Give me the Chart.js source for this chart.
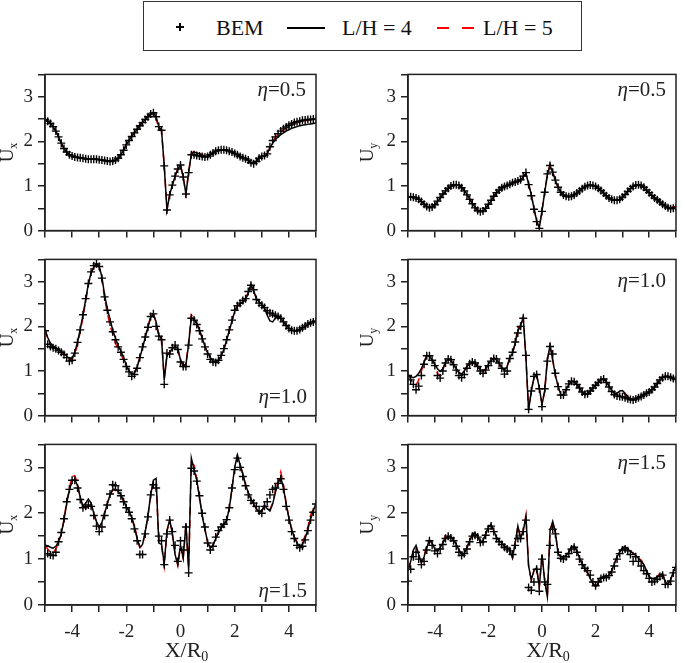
<!DOCTYPE html>
<html>
<head>
<meta charset="utf-8">
<script src="https://cdn.jsdelivr.net/npm/chart.js@4.4.0/dist/chart.umd.min.js"></script>
<style>
  body { margin: 0; width: 685px; height: 663px; position: relative; background: #fff; overflow: hidden;
         font-family: "Liberation Serif", "Times New Roman", serif; }
  canvas { position: absolute; }
  #lgbox { position: absolute; left: 143px; top: 1px; width: 439px; height: 50px; border: 1.5px solid #333; box-sizing: border-box; }
  .lg { position: absolute; top: 16.5px; font-size: 22px; line-height: 22px; color: #111; white-space: pre; }
  .mk { position: absolute; }
</style>
</head>
<body>
<div id="lgbox"></div>
<div class="mk" style="left:176px;top:26px;width:8px;height:1.5px;background:#000"></div>
<div class="mk" style="left:179.3px;top:22.8px;width:1.5px;height:8px;background:#000"></div>
<span class="lg" style="left:216px">BEM</span>
<div class="mk" style="left:287px;top:27px;width:38px;height:1.5px;background:#000"></div>
<span class="lg" style="left:342px">L/H = 4</span>
<div class="mk" style="left:437px;top:27px;width:12px;height:2px;background:#f00"></div>
<div class="mk" style="left:462px;top:27px;width:12px;height:2px;background:#f00"></div>
<span class="lg" style="left:483px">L/H = 5</span>

<canvas id="tl" width="325" height="189" style="left:0;top:58px"></canvas>
<canvas id="tr" width="342" height="189" style="left:343px;top:58px"></canvas>
<canvas id="ml" width="325" height="189" style="left:0;top:243px"></canvas>
<canvas id="mr" width="342" height="189" style="left:343px;top:243px"></canvas>
<canvas id="bl" width="325" height="235" style="left:0;top:428px"></canvas>
<canvas id="br" width="342" height="235" style="left:343px;top:428px"></canvas>

<script>
const SERIF = '"Liberation Serif", "Times New Roman", serif';

// X/R0 positions shared by all panels
const xs = [-5.0,-4.9,-4.8,-4.7,-4.6,-4.5,-4.4,-4.3,-4.2,-4.1,
  -4.0,-3.9,-3.8,-3.7,-3.6,-3.5,-3.4,-3.3,-3.2,-3.1,
  -3.0,-2.9,-2.8,-2.7,-2.6,-2.5,-2.4,-2.3,-2.2,-2.1,
  -2.0,-1.9,-1.8,-1.7,-1.6,-1.5,-1.4,-1.3,-1.2,-1.1,
  -1.0,-0.9,-0.8,-0.7,-0.6,-0.5,-0.4,-0.3,-0.2,-0.1,
  0.0,0.1,0.2,0.3,0.4,0.5,0.6,0.7,0.8,0.9,
  1.0,1.1,1.2,1.3,1.4,1.5,1.6,1.7,1.8,1.9,
  2.0,2.1,2.2,2.3,2.4,2.5,2.6,2.7,2.8,2.9,
  3.0,3.1,3.2,3.3,3.4,3.5,3.6,3.7,3.8,3.9,
  4.0,4.1,4.2,4.3,4.4,4.5,4.6,4.7,4.8,4.9,5.0];

// Ux, eta = 0.5
const tlL4 = [2.49,2.45,2.40,2.33,2.23,2.10,1.96,1.84,1.76,1.70,
  1.67,1.65,1.64,1.63,1.62,1.61,1.60,1.60,1.60,1.60,
  1.59,1.58,1.57,1.56,1.55,1.56,1.58,1.62,1.70,1.80,
  1.92,2.02,2.11,2.19,2.27,2.35,2.42,2.49,2.55,2.61,
  2.64,2.55,2.33,2.25,1.45,0.46,0.80,1.02,1.22,1.38,
  1.47,1.20,0.82,1.30,1.72,1.76,1.74,1.72,1.69,1.66,
  1.66,1.70,1.74,1.78,1.80,1.81,1.81,1.80,1.78,1.76,
  1.73,1.70,1.66,1.63,1.61,1.58,1.52,1.50,1.55,1.62,
  1.66,1.68,1.72,1.85,1.96,2.03,2.10,2.15,2.19,2.23,
  2.26,2.29,2.31,2.33,2.35,2.36,2.37,2.38,2.39,2.40,2.41];
const tlL5 = [2.49,2.45,2.40,2.33,2.23,2.10,1.96,1.84,1.76,1.70,
  1.67,1.65,1.64,1.63,1.62,1.61,1.60,1.60,1.60,1.60,
  1.59,1.58,1.57,1.56,1.55,1.56,1.58,1.62,1.70,1.80,
  1.94,2.04,2.13,2.21,2.29,2.37,2.44,2.51,2.57,2.62,
  2.64,2.50,2.30,2.24,1.45,0.48,0.80,1.02,1.22,1.38,
  1.47,1.20,0.82,1.30,1.74,1.77,1.75,1.73,1.70,1.67,
  1.66,1.70,1.74,1.78,1.80,1.81,1.81,1.80,1.78,1.76,
  1.73,1.70,1.66,1.63,1.61,1.58,1.52,1.50,1.55,1.62,
  1.66,1.68,1.72,1.87,2.00,2.08,2.15,2.21,2.26,2.30,
  2.34,2.37,2.40,2.42,2.44,2.45,2.46,2.47,2.48,2.49,2.49];
const tlBem = [2.49,2.45,2.40,2.33,2.23,2.10,1.96,1.84,1.76,1.70,
  1.67,1.65,1.64,1.63,1.62,1.61,1.60,1.60,1.60,1.60,
  1.59,1.58,1.57,1.56,1.55,1.56,1.58,1.62,1.70,1.80,
  1.92,2.02,2.11,2.19,2.27,2.35,2.42,2.49,2.55,2.61,
  2.64,2.55,2.33,2.25,1.45,0.46,0.80,1.02,1.22,1.38,
  1.47,1.20,0.82,1.30,1.70,1.70,1.68,1.67,1.66,1.65,
  1.66,1.70,1.74,1.78,1.80,1.81,1.81,1.80,1.78,1.76,
  1.73,1.70,1.66,1.63,1.61,1.58,1.52,1.50,1.55,1.62,
  1.66,1.68,1.72,1.88,2.02,2.10,2.17,2.23,2.28,2.32,
  2.36,2.39,2.42,2.44,2.45,2.47,2.48,2.49,2.49,2.50,2.50];

// Uy, eta = 0.5
const trL4 = [0.74,0.75,0.75,0.74,0.71,0.66,0.60,0.55,0.52,0.53,
  0.58,0.65,0.73,0.81,0.88,0.94,0.99,1.02,1.03,1.01,
  0.97,0.90,0.81,0.71,0.61,0.52,0.46,0.43,0.44,0.50,
  0.58,0.67,0.76,0.84,0.90,0.95,0.98,1.00,1.03,1.06,
  1.08,1.10,1.13,1.20,1.28,1.05,0.80,0.50,0.22,0.06,
  0.45,0.85,1.25,1.46,1.30,1.12,0.97,0.86,0.80,0.77,
  0.76,0.77,0.80,0.84,0.89,0.94,0.98,1.01,1.02,1.01,
  0.99,0.95,0.90,0.84,0.78,0.73,0.70,0.68,0.68,0.70,
  0.75,0.81,0.88,0.94,0.99,1.02,1.02,1.00,0.96,0.90,
  0.84,0.78,0.73,0.69,0.64,0.59,0.55,0.51,0.50,0.51,0.52];
const trL5 = [0.74,0.75,0.75,0.74,0.71,0.66,0.60,0.55,0.52,0.53,
  0.58,0.65,0.73,0.81,0.88,0.94,0.99,1.02,1.03,1.01,
  0.97,0.90,0.81,0.71,0.61,0.52,0.46,0.43,0.44,0.50,
  0.58,0.67,0.76,0.84,0.90,0.95,0.98,1.01,1.05,1.08,
  1.09,1.10,1.13,1.20,1.28,1.05,0.80,0.50,0.22,0.06,
  0.45,0.85,1.25,1.49,1.32,1.12,0.97,0.86,0.80,0.77,
  0.76,0.77,0.80,0.84,0.89,0.94,0.98,1.01,1.02,1.01,
  0.99,0.95,0.90,0.84,0.78,0.73,0.70,0.68,0.68,0.70,
  0.75,0.81,0.88,0.94,0.99,1.02,1.03,1.02,0.98,0.91,
  0.84,0.78,0.73,0.69,0.64,0.59,0.55,0.52,0.52,0.53,0.54];
const trBem = [0.75,0.76,0.75,0.73,0.70,0.65,0.59,0.54,0.51,0.53,
  0.58,0.66,0.74,0.82,0.89,0.95,1.00,1.03,1.03,1.01,
  0.96,0.89,0.80,0.70,0.60,0.51,0.45,0.42,0.44,0.50,
  0.59,0.68,0.77,0.85,0.91,0.96,0.99,1.01,1.04,1.07,
  1.09,1.11,1.14,1.22,1.30,1.03,0.78,0.48,0.20,0.05,
  0.43,0.86,1.27,1.46,1.31,1.13,0.97,0.86,0.80,0.77,
  0.76,0.77,0.80,0.84,0.89,0.94,0.98,1.01,1.02,1.01,
  0.99,0.95,0.90,0.84,0.78,0.73,0.70,0.68,0.68,0.70,
  0.75,0.81,0.88,0.94,0.99,1.02,1.03,1.01,0.97,0.91,
  0.85,0.79,0.73,0.69,0.64,0.59,0.55,0.51,0.49,0.50,0.52];

// Ux, eta = 1.0
const mlL4 = [1.93,1.75,1.62,1.56,1.52,1.48,1.44,1.39,1.33,1.28,
  1.29,1.42,1.65,1.93,2.25,2.60,2.95,3.20,3.33,3.40,
  3.35,3.10,2.70,2.40,2.15,1.92,1.74,1.56,1.45,1.30,
  1.13,1.00,0.92,0.95,1.08,1.30,1.52,1.75,1.98,2.20,
  2.28,2.10,1.80,1.72,0.80,1.34,1.42,1.50,1.56,1.50,
  1.25,1.12,1.14,1.60,2.20,2.15,2.06,1.92,1.74,1.56,
  1.41,1.30,1.22,1.20,1.24,1.34,1.48,1.68,1.90,2.12,
  2.34,2.45,2.50,2.55,2.60,2.75,2.94,2.80,2.62,2.55,
  2.49,2.40,2.25,2.12,2.10,2.18,2.22,2.18,2.10,2.02,
  1.96,1.92,1.90,1.90,1.92,1.96,2.00,2.04,2.07,2.10,2.11];
const mlL5 = [1.93,1.72,1.60,1.55,1.51,1.47,1.43,1.38,1.32,1.27,
  1.26,1.38,1.58,1.88,2.20,2.55,2.92,3.18,3.32,3.40,
  3.33,3.05,2.62,2.30,2.02,1.82,1.62,1.48,1.40,1.22,
  1.12,0.99,0.92,0.96,1.10,1.32,1.54,1.78,2.00,2.22,
  2.28,2.08,1.78,1.70,0.85,1.36,1.42,1.50,1.56,1.50,
  1.24,1.12,1.16,1.65,2.26,2.18,2.06,1.92,1.74,1.56,
  1.41,1.30,1.22,1.20,1.24,1.34,1.48,1.68,1.90,2.12,
  2.34,2.45,2.50,2.55,2.60,2.78,2.90,2.80,2.62,2.55,
  2.49,2.42,2.30,2.25,2.24,2.22,2.22,2.18,2.10,2.02,
  1.96,1.92,1.90,1.90,1.92,1.96,2.00,2.04,2.07,2.10,2.11];
const mlBem = [1.90,1.60,1.55,1.52,1.50,1.46,1.42,1.37,1.30,1.22,
  1.24,1.40,1.64,1.92,2.26,2.62,2.96,3.22,3.36,3.40,
  3.34,3.08,2.66,2.36,2.10,1.88,1.70,1.54,1.42,1.26,
  1.10,0.98,0.88,0.92,1.06,1.30,1.54,1.76,1.98,2.22,
  2.28,2.00,1.78,1.70,0.70,1.40,1.38,1.52,1.58,1.48,
  1.20,1.10,1.10,1.58,2.18,2.14,2.04,1.90,1.72,1.54,
  1.38,1.26,1.20,1.19,1.24,1.35,1.50,1.70,1.92,2.14,
  2.36,2.46,2.52,2.58,2.62,2.78,2.92,2.82,2.60,2.52,
  2.47,2.42,2.35,2.30,2.28,2.25,2.22,2.18,2.10,2.02,
  1.95,1.91,1.90,1.90,1.93,1.97,2.01,2.05,2.08,2.10,2.12];

// Uy, eta = 1.0
const mrL4 = [0.91,0.87,0.85,0.88,0.95,1.05,1.20,1.35,1.33,1.25,
  1.15,1.05,0.99,1.05,1.20,1.27,1.24,1.15,1.05,0.96,
  0.93,1.00,1.10,1.18,1.20,1.17,1.10,1.03,1.00,1.05,
  1.15,1.24,1.29,1.26,1.17,1.07,1.02,1.10,1.30,1.40,
  1.62,1.90,2.02,2.20,1.30,0.12,0.55,0.85,0.91,0.62,
  0.25,0.55,1.25,1.57,1.25,0.90,0.66,0.47,0.45,0.58,
  0.70,0.77,0.76,0.70,0.62,0.53,0.47,0.48,0.55,0.62,
  0.68,0.74,0.80,0.83,0.76,0.66,0.56,0.50,0.50,0.55,
  0.56,0.50,0.42,0.37,0.36,0.38,0.40,0.43,0.47,0.50,
  0.54,0.58,0.64,0.72,0.80,0.85,0.88,0.88,0.86,0.83,0.81];
const mrL5 = [0.91,0.80,0.72,0.68,0.80,1.00,1.18,1.35,1.33,1.25,
  1.14,0.95,0.88,1.02,1.20,1.27,1.24,1.15,1.05,0.96,
  0.93,1.00,1.10,1.18,1.20,1.17,1.10,1.03,0.98,1.04,
  1.15,1.24,1.29,1.26,1.17,1.07,1.02,1.10,1.30,1.40,
  1.62,1.98,1.95,2.20,1.30,0.12,0.55,0.85,0.91,0.62,
  0.25,0.55,1.25,1.57,1.25,0.90,0.66,0.47,0.45,0.58,
  0.70,0.77,0.76,0.70,0.62,0.53,0.47,0.48,0.55,0.62,
  0.68,0.74,0.80,0.83,0.76,0.66,0.56,0.50,0.48,0.50,
  0.52,0.48,0.42,0.37,0.36,0.38,0.40,0.43,0.47,0.50,
  0.54,0.58,0.64,0.72,0.80,0.85,0.88,0.88,0.86,0.83,0.81];
const mrBem = [0.90,0.80,0.70,0.58,0.66,0.90,1.15,1.34,1.34,1.24,
  1.12,0.90,0.84,1.00,1.18,1.27,1.25,1.14,1.02,0.90,
  0.85,0.92,1.06,1.16,1.20,1.18,1.10,1.00,0.95,1.02,
  1.12,1.22,1.28,1.27,1.18,1.06,0.93,1.00,1.28,1.42,
  1.65,1.85,2.00,2.18,1.35,0.14,0.55,0.88,0.92,0.60,
  0.20,0.60,1.22,1.55,1.38,0.95,0.65,0.46,0.46,0.58,
  0.71,0.77,0.76,0.70,0.62,0.53,0.48,0.49,0.55,0.62,
  0.68,0.74,0.80,0.82,0.74,0.64,0.54,0.47,0.44,0.43,
  0.42,0.40,0.38,0.36,0.35,0.37,0.40,0.43,0.46,0.50,
  0.53,0.58,0.64,0.72,0.80,0.85,0.88,0.88,0.86,0.83,0.81];

// Ux, eta = 1.5
const blL4 = [1.30,1.29,1.26,1.24,1.28,1.38,1.55,1.85,2.22,2.50,
  2.70,2.74,2.60,2.35,2.15,2.22,2.31,2.22,2.00,1.82,
  1.70,1.80,2.00,2.20,2.40,2.52,2.52,2.48,2.40,2.28,
  2.14,2.05,1.90,1.70,1.45,1.26,1.32,1.60,1.95,2.40,
  2.72,2.76,1.35,1.32,0.90,1.62,1.86,1.55,1.10,0.88,
  1.30,1.02,1.77,0.78,3.20,2.95,2.72,2.35,1.95,1.65,
  1.38,1.24,1.30,1.45,1.58,1.68,1.76,1.84,2.10,2.55,
  3.00,3.27,3.05,2.85,2.62,2.45,2.30,2.20,2.10,2.02,
  2.05,2.18,2.10,2.05,2.20,2.45,2.65,2.78,2.55,2.20,
  1.90,1.65,1.48,1.35,1.27,1.32,1.45,1.65,1.88,2.05,2.22];
const blL5 = [1.30,1.22,1.15,1.14,1.22,1.36,1.55,1.85,2.25,2.55,
  2.80,2.82,2.65,2.35,2.12,2.10,2.15,2.15,1.98,1.80,
  1.68,1.80,2.02,2.22,2.40,2.50,2.50,2.46,2.38,2.26,
  2.12,2.05,1.92,1.72,1.48,1.25,1.30,1.58,1.95,2.40,
  2.70,2.70,1.35,1.30,0.85,1.60,1.84,1.55,1.12,0.86,
  1.28,1.02,1.74,0.80,3.10,3.05,2.75,2.35,1.98,1.65,
  1.36,1.22,1.30,1.45,1.58,1.68,1.76,1.84,2.10,2.52,
  2.95,3.22,3.08,2.85,2.62,2.45,2.30,2.20,2.10,2.02,
  2.05,2.15,2.12,2.08,2.22,2.48,2.70,2.90,2.62,2.22,
  1.90,1.65,1.48,1.38,1.38,1.40,1.50,1.70,1.95,2.10,2.22];
const blBem = [1.28,1.12,1.09,1.08,1.15,1.38,1.58,1.88,2.25,2.52,
  2.72,2.72,2.55,2.30,2.12,2.15,2.18,2.15,1.95,1.72,
  1.60,1.70,1.95,2.18,2.42,2.62,2.60,2.50,2.38,2.25,
  2.12,2.02,1.88,1.66,1.40,1.10,1.10,1.55,1.92,2.40,
  2.62,2.55,1.50,1.40,0.88,1.55,1.85,1.60,1.30,0.95,
  1.40,1.20,1.70,0.70,2.98,2.92,2.70,2.38,2.00,1.70,
  1.35,1.20,1.28,1.48,1.62,1.70,1.76,1.86,2.12,2.55,
  2.95,3.20,3.00,2.80,2.60,2.40,2.28,2.22,2.15,2.05,
  2.00,2.15,2.25,2.40,2.52,2.55,2.65,2.75,2.52,2.15,
  1.85,1.60,1.45,1.30,1.25,1.28,1.42,1.62,1.85,2.02,2.20];

// Uy, eta = 1.5
const brL4 = [0.75,0.95,1.20,1.30,1.10,0.92,1.05,1.25,1.42,1.35,
  1.22,1.18,1.25,1.35,1.45,1.50,1.48,1.42,1.32,1.20,
  1.10,1.12,1.25,1.40,1.52,1.57,1.50,1.38,1.40,1.55,
  1.70,1.76,1.62,1.48,1.40,1.36,1.28,1.25,1.20,1.03,
  1.35,1.72,1.45,1.62,1.92,0.85,0.55,0.75,0.81,0.39,
  1.10,0.53,0.18,1.62,1.82,1.58,1.12,1.05,1.05,1.08,
  1.15,1.25,1.29,1.18,1.02,0.90,0.80,0.70,0.58,0.46,
  0.40,0.48,0.58,0.63,0.62,0.65,0.75,0.90,1.05,1.16,
  1.24,1.27,1.22,1.17,1.13,1.08,1.02,0.95,0.88,0.75,
  0.62,0.58,0.58,0.60,0.66,0.68,0.50,0.45,0.55,0.72,0.85];
const brL5 = [0.75,0.95,1.18,1.28,1.10,0.92,1.05,1.35,1.40,1.35,
  1.22,1.18,1.25,1.35,1.52,1.50,1.48,1.42,1.32,1.20,
  1.10,1.12,1.25,1.40,1.55,1.60,1.50,1.38,1.40,1.55,
  1.70,1.74,1.62,1.48,1.40,1.36,1.28,1.25,1.20,1.03,
  1.35,1.72,1.45,1.62,1.96,0.85,0.55,0.75,0.81,0.39,
  1.10,0.53,0.18,1.62,1.82,1.58,1.12,1.05,1.05,1.08,
  1.15,1.25,1.29,1.18,1.02,0.90,0.80,0.70,0.62,0.48,
  0.40,0.48,0.58,0.63,0.62,0.65,0.75,0.90,1.05,1.16,
  1.24,1.27,1.22,1.17,1.13,1.08,1.02,0.98,0.88,0.75,
  0.62,0.58,0.58,0.60,0.70,0.68,0.50,0.45,0.55,0.72,0.85];
const brBem = [0.52,0.78,1.05,1.15,1.00,0.88,0.95,1.20,1.40,1.30,
  1.18,1.12,1.22,1.32,1.45,1.50,1.46,1.40,1.28,1.15,
  1.08,1.12,1.22,1.38,1.50,1.52,1.48,1.36,1.38,1.52,
  1.66,1.72,1.60,1.45,1.38,1.32,1.26,1.22,1.18,1.10,
  1.30,1.45,1.45,1.60,1.85,0.38,0.32,0.50,0.78,0.30,
  1.00,0.50,0.45,1.30,1.65,1.55,1.15,1.02,1.00,1.05,
  1.12,1.22,1.26,1.15,1.00,0.88,0.80,0.75,0.65,0.50,
  0.42,0.50,0.58,0.60,0.60,0.64,0.72,0.85,1.00,1.12,
  1.20,1.22,1.18,1.10,0.95,1.05,0.95,0.85,0.75,0.68,
  0.58,0.50,0.52,0.56,0.62,0.65,0.45,0.45,0.52,0.70,0.82];

// box round the plot area
const framePlugin = {
  id: 'frame',
  afterDraw(chart) {
    const a = chart.chartArea, ctx = chart.ctx;
    ctx.save();
    ctx.strokeStyle = '#222';
    ctx.lineWidth = 1.5;
    ctx.strokeRect(a.left, a.top, a.right - a.left, a.bottom - a.top);
    ctx.restore();
  }
};

// U_x / U_y title, eta label, X/R0 title
const textPlugin = {
  id: 'panelText',
  afterDraw(chart, args, o) {
    const a = chart.chartArea, ctx = chart.ctx;
    ctx.save();
    ctx.fillStyle = '#222';
    ctx.textBaseline = 'alphabetic';
    ctx.translate(o.yTitleX, (a.top + a.bottom) / 2);
    ctx.rotate(-Math.PI / 2);
    ctx.font = '19px ' + SERIF;
    const wU = ctx.measureText('U').width;
    ctx.font = '12px ' + SERIF;
    const wS = ctx.measureText(o.sub).width;
    const x0 = -(wU + wS) / 2;
    ctx.font = '19px ' + SERIF;
    ctx.fillText('U', x0, 0);
    ctx.font = '12px ' + SERIF;
    ctx.fillText(o.sub, x0 + wU, 4);
    ctx.restore();

    ctx.save();
    ctx.fillStyle = '#222';
    ctx.font = 'italic 21px ' + SERIF;
    const wEta = ctx.measureText('\u03b7').width;
    ctx.font = '21px ' + SERIF;
    const rest = '=' + o.eta;
    const wRest = ctx.measureText(rest).width;
    const ex = a.right - o.etaRight - wEta - wRest;
    const ey = o.etaTop >= 0 ? a.top + o.etaTop : a.bottom - o.etaBottom;
    ctx.font = 'italic 21px ' + SERIF;
    ctx.fillText('\u03b7', ex, ey);
    ctx.font = '21px ' + SERIF;
    ctx.fillText(rest, ex + wEta, ey);

    if (o.xTitle) {
      ctx.font = '22px ' + SERIF;
      const wX = ctx.measureText('X/R').width;
      ctx.font = '14px ' + SERIF;
      const w0 = ctx.measureText('0').width;
      const cx = (a.left + a.right) / 2 + 6;
      const bx = cx - (wX + w0) / 2;
      const by = a.bottom + 52;
      ctx.font = '22px ' + SERIF;
      ctx.fillText('X/R', bx, by);
      ctx.font = '14px ' + SERIF;
      ctx.fillText('0', bx + wX, by + 4);
    }
    ctx.restore();
  }
};

function panel(id, bem, l4, l5, o) {
  const pts = arr => xs.map((x, i) => ({ x: x, y: arr[i] }));
  const tickFont = { family: SERIF, size: 19 };
  return new Chart(document.getElementById(id), {
    type: 'line',
    data: {
      datasets: [{
        label: 'BEM',
        data: pts(bem),
        showLine: false,
        pointStyle: 'cross',
        pointRadius: 4,
        pointBorderWidth: 1.4,
        pointBorderColor: '#000',
        borderColor: '#000'
      }, {
        label: 'L/H = 4',
        data: pts(l4),
        borderColor: '#000',
        borderWidth: 1.5,
        pointRadius: 0
      }, {
        label: 'L/H = 5',
        data: pts(l5),
        borderColor: '#f00',
        borderWidth: 1.5,
        borderDash: [8, 5],
        pointRadius: 0
      }]
    },
    options: {
      responsive: false,
      animation: false,
      events: [],
      layout: { padding: { top: 12, right: o.padRight, bottom: 0, left: 0 } },
      scales: {
        x: {
          type: 'linear',
          min: -5,
          max: 5,
          afterFit: s => { s.height = o.xh; },
          ticks: {
            stepSize: 1, autoSkip: false, maxRotation: 0, padding: 9, color: '#222', font: tickFont,
            callback: v => (o.xLabels && Math.round(v) % 2 === 0) ? String(Math.round(v)) : ''
          },
          grid: { drawOnChartArea: false, tickLength: 7, color: '#222', lineWidth: 1.5 },
          border: { color: '#222', width: 1.5 }
        },
        y: {
          min: 0,
          max: 3.5,
          afterFit: s => { s.width = o.yw; },
          ticks: {
            stepSize: 0.5, autoSkip: false, padding: 5, color: '#222', font: tickFont,
            callback: v => Number.isInteger(v) ? String(v) : ''
          },
          grid: { drawOnChartArea: false, tickLength: 7, color: '#222', lineWidth: 1.5 },
          border: { color: '#222', width: 1.5 }
        }
      },
      plugins: {
        legend: { display: false },
        tooltip: { enabled: false },
        panelText: o.text
      }
    },
    plugins: [framePlugin, textPlugin]
  });
}

const left = { yw: 45, padRight: 3 };
const right = { yw: 65, padRight: 2 };

panel('tl', tlBem, tlL4, tlL5, Object.assign({ xh: 12, xLabels: false,
  text: { yTitleX: 13, sub: 'x', eta: '0.5', etaRight: 10, etaTop: 22, etaBottom: 0, xTitle: false } }, left));
panel('tr', trBem, trL4, trL5, Object.assign({ xh: 12, xLabels: false,
  text: { yTitleX: 30, sub: 'y', eta: '0.5', etaRight: 10, etaTop: 22, etaBottom: 0, xTitle: false } }, right));
panel('ml', mlBem, mlL4, mlL5, Object.assign({ xh: 12, xLabels: false,
  text: { yTitleX: 13, sub: 'x', eta: '1.0', etaRight: 9, etaTop: -1, etaBottom: 13, xTitle: false } }, left));
panel('mr', mrBem, mrL4, mrL5, Object.assign({ xh: 12, xLabels: false,
  text: { yTitleX: 30, sub: 'y', eta: '1.0', etaRight: 10, etaTop: 28, etaBottom: 0, xTitle: false } }, right));
panel('bl', blBem, blL4, blL5, Object.assign({ xh: 58, xLabels: true,
  text: { yTitleX: 13, sub: 'x', eta: '1.5', etaRight: 9, etaTop: -1, etaBottom: 8, xTitle: true } }, left));
panel('br', brBem, brL4, brL5, Object.assign({ xh: 58, xLabels: true,
  text: { yTitleX: 30, sub: 'y', eta: '1.5', etaRight: 10, etaTop: 25, etaBottom: 0, xTitle: true } }, right));
</script>
</body>
</html>
